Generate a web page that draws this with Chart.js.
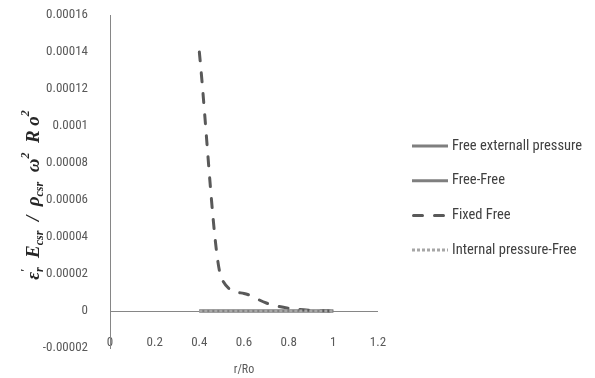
<!DOCTYPE html>
<html>
<head>
<meta charset="utf-8">
<script src="https://cdn.jsdelivr.net/npm/chart.js@4/dist/chart.umd.min.js"></script>
<style>
  html, body { margin:0; padding:0; background:#fff; }
  #wrap { position:relative; width:595px; height:378px; }
</style>
</head>
<body>
<div id="wrap"><canvas id="c"></canvas></div>
<script>
// r/Ro sample positions and the four series
const rValues      = [0.4, 0.5, 0.6, 0.7, 0.8, 0.9, 1.0];
const freeExternal = [0, 0, 0, 0, 0, 0, 0];
const freeFree     = [0, 0, 0, 0, 0, 0, 0];
const fixedFree    = [0.00014, 0.0000175, 0.0000095, 0.0000043, 0.0000015, 0.0000004, 0];
const internalFree = [0, 0, 0, 0, 0, 0, 0];

const seriesNames = ['Free externall pressure', 'Free-Free', 'Fixed Free', 'Internal pressure-Free'];

const xTicks      = [0, 0.2, 0.4, 0.6, 0.8, 1, 1.2];
const xTickLabels = ['0', '0.2', '0.4', '0.6', '0.8', '1', '1.2'];
const yTicks      = [-0.00002, 0, 0.00002, 0.00004, 0.00006, 0.00008, 0.0001, 0.00012, 0.00014, 0.00016];
const yTickLabels = ['-0.00002', '0', '0.00002', '0.00004', '0.00006', '0.00008', '0.0001', '0.00012', '0.00014', '0.00016'];

const narrow = "'Liberation Sans Narrow', 'Roboto Condensed', 'Liberation Sans', sans-serif";
const axisCol = '#868686';
const textCol = '#595959';

const pts = arr => rValues.map((x, i) => ({ x, y: arr[i] }));

// Legend drawn at the right, like the Excel original
const sideLegend = {
  id: 'sideLegend',
  afterDraw(chart) {
    const ctx = chart.ctx;
    const x0 = chart.chartArea.right + 34;
    const y0 = 146, step = 34.7;
    ctx.save();
    chart.data.datasets.forEach((ds, i) => {
      const y = y0 + i * step;
      ctx.beginPath();
      ctx.strokeStyle = ds.borderColor;
      ctx.lineWidth = ds.borderWidth;
      ctx.lineCap = ds.borderCapStyle || 'butt';
      ctx.setLineDash(ds.borderDash || []);
      ctx.moveTo(x0 + (ds.borderCapStyle === 'round' ? 1.5 : 0), y);
      ctx.lineTo(x0 + 36, y);
      ctx.stroke();
      ctx.setLineDash([]);
      ctx.fillStyle = '#404040';
      ctx.font = "14.5px " + narrow;
      ctx.textBaseline = 'middle';
      ctx.fillText(ds.label, x0 + 40, y);
    });
    ctx.restore();
  }
};

// Rotated y-axis title with sub/superscripts: [text, level, advances]
const yTitle = {
  id: 'yTitle',
  afterDraw(chart) {
    const ctx = chart.ctx;
    const parts = [
      ['ε', 0, 1], ['′', -1, 0], ['r', 1, 1], ['  E', 0, 1], ['csr', 1, 1], ['  /  ', 0, 1], ['ρ', 0, 1], ['csr', 1, 1],
      ['  ω', 0, 1], ['2', -1, 1], ['  R', 0, 1], [' o', 0, 1], ['2', -1, 1]
    ];
    const big = "italic bold 19px 'Liberation Serif', serif";
    const small = "italic bold 12px 'Liberation Serif', serif";
    ctx.save();
    let total = 0;
    parts.forEach(p => { ctx.font = p[1] ? small : big; if (p[2]) total += ctx.measureText(p[0]).width; });
    ctx.translate(39, 195);
    ctx.rotate(-Math.PI / 2);
    ctx.fillStyle = '#262626';
    ctx.textBaseline = 'alphabetic';
    let x = -total / 2;
    parts.forEach(p => {
      ctx.font = p[1] ? small : big;
      const dy = p[1] === 1 ? 4 : (p[1] === -1 ? -10 : 0);
      ctx.fillText(p[0], x, dy);
      if (p[2]) x += ctx.measureText(p[0]).width;
    });
    ctx.restore();
  }
};

new Chart(document.getElementById('c'), {
  type: 'line',
  data: {
    datasets: [
      { label: seriesNames[0], data: pts(freeExternal), borderColor: '#7f7f7f', borderWidth: 3, pointRadius: 0, order: 3 },
      { label: seriesNames[1], data: pts(freeFree), borderColor: '#7f7f7f', borderWidth: 3, pointRadius: 0, order: 2 },
      { label: seriesNames[2], data: pts(fixedFree), borderColor: '#595959', borderWidth: 3, borderDash: [9, 12],
        borderCapStyle: 'round', cubicInterpolationMode: 'monotone', pointRadius: 0, order: 1 },
      { label: seriesNames[3], data: pts(internalFree), borderColor: '#a6a6a6', borderWidth: 3, borderDash: [3, 2],
        pointRadius: 0, order: 0 }
    ]
  },
  options: {
    responsive: true,
    maintainAspectRatio: false,
    animation: false,
    layout: { padding: { top: 15, right: 217, left: 0, bottom: 0 } },
    plugins: { legend: { display: false }, tooltip: { enabled: false } },
    scales: {
      x: {
        type: 'linear', min: 0, max: 1.2,
        afterBuildTicks: s => { s.ticks = xTicks.map(v => ({ value: v })); },
        afterFit: s => { s.height = 30; },
        grid: { display: false, drawTicks: false },
        border: { display: false },
        ticks: { mirror: true, padding: -3, color: textCol, font: { family: narrow, size: 13 },
                 callback: (v, i) => xTickLabels[i] },
        title: { display: true, text: 'r/Ro', color: textCol, font: { family: narrow, size: 12 },
                 padding: { top: 0, bottom: 1 } }
      },
      y: {
        min: -0.00002, max: 0.00016,
        afterBuildTicks: s => { s.ticks = yTicks.map(v => ({ value: v })); },
        afterFit: s => { s.width = 110; s.paddingTop = 0; s.paddingBottom = 0; },
        grid: { drawTicks: false,
                color: c => (c.tick && Math.abs(c.tick.value) < 1e-12) ? axisCol : 'rgba(0,0,0,0)' },
        border: { display: true, color: axisCol, width: 1 },
        ticks: { padding: 22, color: textCol, font: { family: narrow, size: 13 },
                 callback: (v, i) => yTickLabels[i] }
      }
    }
  },
  plugins: [sideLegend, yTitle]
});
</script>
</body>
</html>
